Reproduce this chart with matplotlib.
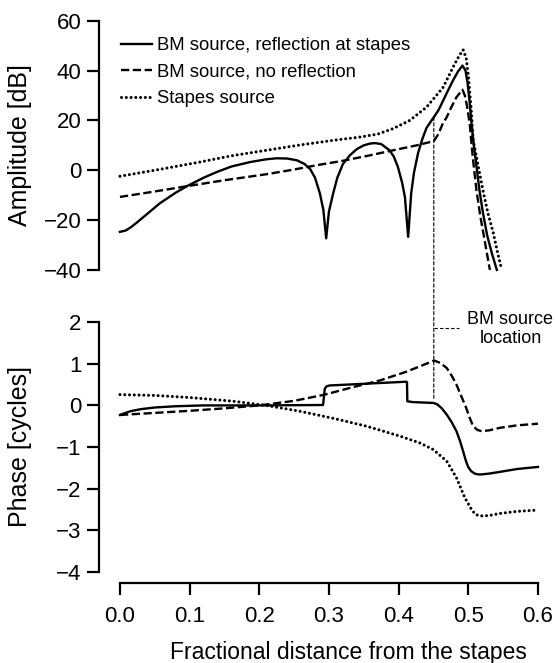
import matplotlib
matplotlib.use('Agg')
import matplotlib.pyplot as plt
from matplotlib.patches import ConnectionPatch

plt.rcParams['font.family'] = ['Liberation Sans', 'DejaVu Sans']

# Amplitude curves (x = fractional distance, dB)
amp_refl_x = [0.000, 0.008, 0.016, 0.025, 0.040, 0.057, 0.080, 0.096, 0.120, 0.139,
              0.160, 0.187, 0.210, 0.225, 0.240, 0.254, 0.265, 0.273, 0.280, 0.287,
              0.292, 0.296, 0.300, 0.306, 0.312, 0.320, 0.330, 0.340, 0.350, 0.359,
              0.366, 0.375, 0.387, 0.393, 0.399, 0.405, 0.409, 0.4137, 0.418, 0.422,
              0.428, 0.434, 0.440, 0.4505, 0.457, 0.464, 0.470, 0.478, 0.485, 0.4916,
              0.496, 0.499, 0.502, 0.5046, 0.508, 0.512, 0.516, 0.521, 0.527, 0.534, 0.541]
amp_refl_db = [-24.7, -24.2, -22.8, -20.8, -17.3, -13.3, -9.0, -6.4, -3.0, -0.7,
               1.5, 3.3, 4.4, 4.8, 4.7, 4.0, 2.5, 0.5, -3.0, -9.3,
               -16.0, -27.3, -16.5, -9.3, -3.0, 2.5, 6.0, 8.5, 10.0, 10.7,
               10.9, 10.5, 8.0, 5.5, 1.3, -5.0, -10.7, -26.7, -9.3, -1.0,
               7.0, 12.5, 17.0, 21.3, 24.0, 28.0, 31.5, 36.0, 39.5, 42.0,
               40.0, 35.0, 27.0, 18.7, 10.0, 1.0, -8.0, -17.0, -26.0, -33.5, -40.0]

amp_norefl_x = [0.000, 0.048, 0.096, 0.150, 0.210, 0.250, 0.282, 0.320, 0.359, 0.392,
                0.426, 0.4505, 0.457, 0.463, 0.469, 0.476, 0.483, 0.4916, 0.495, 0.498,
                0.502, 0.5065, 0.5117, 0.517, 0.524, 0.531]
amp_norefl_db = [-10.7, -8.6, -6.4, -4.0, -1.6, 0.3, 2.0, 3.8, 6.0, 8.0,
                 10.0, 11.7, 14.5, 18.5, 21.3, 25.5, 29.3, 32.3, 30.0, 26.0,
                 18.7, 5.0, -8.0, -18.0, -29.0, -40.0]

amp_stapes_x = [0.000, 0.050, 0.115, 0.160, 0.210, 0.260, 0.306, 0.344, 0.370, 0.392,
                0.416, 0.440, 0.464, 0.478, 0.487, 0.4926, 0.497, 0.500, 0.504, 0.507,
                0.514, 0.521, 0.528, 0.536, 0.542, 0.548]
amp_stapes_db = [-2.4, 0.0, 3.3, 5.8, 8.0, 10.2, 12.0, 13.3, 14.5, 16.7,
                 20.0, 25.3, 33.3, 41.3, 46.0, 48.3, 45.0, 38.0, 25.0, 12.0,
                 2.0, -8.0, -17.0, -25.3, -33.0, -40.0]

# Phase curves (cycles)
ph_refl_x = [0.000, 0.008, 0.015, 0.030, 0.050, 0.080, 0.120, 0.200, 0.2915, 0.294,
             0.2965, 0.301, 0.350, 0.411, 0.412, 0.4125, 0.420, 0.4495, 0.455, 0.462,
             0.469, 0.476, 0.483, 0.488, 0.4925, 0.4965, 0.4998, 0.504, 0.5093, 0.514,
             0.519, 0.530, 0.545, 0.570, 0.600]
ph_refl_cyc = [-0.23, -0.18, -0.14, -0.09, -0.05, -0.02, 0.0, 0.0, 0.01, 0.40,
               0.46, 0.48, 0.52, 0.57, 0.56, 0.10, 0.08, 0.06, 0.03, -0.07,
               -0.22, -0.40, -0.62, -0.85, -1.10, -1.33, -1.48, -1.58, -1.64, -1.66,
               -1.66, -1.64, -1.60, -1.53, -1.48]

ph_norefl_x = [0.000, 0.050, 0.100, 0.150, 0.200, 0.250, 0.294, 0.330, 0.373, 0.411,
               0.435, 0.451, 0.460, 0.469, 0.476, 0.483, 0.490, 0.497, 0.502, 0.507,
               0.513, 0.519, 0.530, 0.545, 0.570, 0.600]
ph_norefl_cyc = [-0.23, -0.18, -0.13, -0.07, 0.0, 0.11, 0.26, 0.42, 0.60, 0.81,
                 0.97, 1.08, 1.02, 0.90, 0.72, 0.50, 0.22, -0.06, -0.30, -0.50,
                 -0.59, -0.62, -0.60, -0.54, -0.48, -0.44]

ph_stapes_x = [0.000, 0.050, 0.100, 0.163, 0.210, 0.258, 0.306, 0.354, 0.402, 0.430,
               0.4495, 0.469, 0.483, 0.495, 0.5045, 0.510, 0.5165, 0.530, 0.545, 0.570, 0.598]
ph_stapes_cyc = [0.26, 0.24, 0.19, 0.10, 0.0, -0.14, -0.31, -0.50, -0.74, -0.90,
                 -1.06, -1.34, -1.74, -2.22, -2.50, -2.62, -2.66, -2.65, -2.60, -2.55, -2.52]

labels = ['BM source, reflection at stapes', 'BM source, no reflection', 'Stapes source']
amp_ticks = [-40, -20, 0, 20, 40, 60]
ph_ticks = [-4, -3, -2, -1, 0, 1, 2]
x_ticks = [0.0, 0.1, 0.2, 0.3, 0.4, 0.5, 0.6]

source_x = 0.4505

# Styles
lw = 1.7
solid = dict(color='black', lw=lw, linestyle='-', clip_on=False)
dashed = dict(color='black', lw=lw, linestyle=(0, (3.5, 1.5)), clip_on=False)
dotted = dict(color='black', lw=2.2, linestyle=(0, (0.01, 1.55)), dash_capstyle='round', clip_on=False)
thin_dash = dict(color='black', lw=0.8, linestyle=(0, (3, 2)))
tick_fs = 16
label_fs = 16.5


def style_axis(ax):
    for side in ['top', 'right']:
        ax.spines[side].set_visible(False)
    for side in ['left', 'bottom']:
        ax.spines[side].set_linewidth(1.6)
    ax.tick_params(direction='out', length=8.5, width=1.6, labelsize=tick_fs, pad=4)


fig = plt.figure(figsize=(5.58, 6.63), dpi=100)
ax1 = fig.add_axes([0.1774, 0.5928, 0.7867, 0.376])
ax2 = fig.add_axes([0.1774, 0.1202, 0.7867, 0.3937])

# Amplitude panel
ax1.plot(amp_refl_x, amp_refl_db, label=labels[0], **solid)
ax1.plot(amp_norefl_x, amp_norefl_db, label=labels[1], **dashed)
ax1.plot(amp_stapes_x, amp_stapes_db, label=labels[2], **dotted)
ax1.set_xlim(-0.0301, 0.6)
ax1.set_ylim(-40, 60)
ax1.set_yticks(amp_ticks)
ax1.set_yticklabels([str(t).replace('-', '\u2212') for t in amp_ticks])
style_axis(ax1)
ax1.spines['bottom'].set_visible(False)
ax1.tick_params(axis='x', bottom=False, labelbottom=False)
ax1.set_ylabel('Amplitude [dB]', fontsize=18)
ax1.yaxis.set_label_coords(-0.153, 0.5)

# Phase panel
ax2.plot(ph_refl_x, ph_refl_cyc, **solid)
ax2.plot(ph_norefl_x, ph_norefl_cyc, **dashed)
ax2.plot(ph_stapes_x, ph_stapes_cyc, **dotted)
ax2.set_xlim(-0.0301, 0.6)
ax2.set_ylim(-4.28, 2)
ax2.set_yticks(ph_ticks)
ax2.set_yticklabels([str(t).replace('-', '\u2212') for t in ph_ticks])
ax2.set_xticks(x_ticks)
ax2.set_xticklabels(['%.1f' % t for t in x_ticks])
style_axis(ax2)
ax2.spines['left'].set_bounds(-4, 2)
ax2.spines['bottom'].set_bounds(0, 0.6)
ax2.tick_params(axis='x', pad=8)
ax2.set_ylabel('Phase [cycles]', fontsize=18)
ax2.yaxis.set_label_coords(-0.153, 0.523)
ax2.set_xlabel('Fractional distance from the stapes', fontsize=label_fs)
ax2.xaxis.set_label_coords(0.568, -0.222)

# BM source location marker running across both panels
con = ConnectionPatch(xyA=(source_x, 21.3), coordsA=ax1.transData,
                      xyB=(source_x, 0.12), coordsB=ax2.transData, **thin_dash)
fig.add_artist(con)
ax2.plot([source_x, 0.487], [1.87, 1.87], clip_on=False, **thin_dash)
ax2.text(0.5605, 1.84, 'BM source\nlocation', ha='center', va='center',
         fontsize=13, linespacing=1.15)

# Legend
fig.legend(loc='upper left', bbox_to_anchor=(120.7 / 558, 1 - 37 / 663),
           frameon=False, fontsize=13.3, handlelength=1.7, handletextpad=0.28,
           borderpad=0, borderaxespad=0, labelspacing=0.52)

fig.savefig('out.png', dpi=100)
